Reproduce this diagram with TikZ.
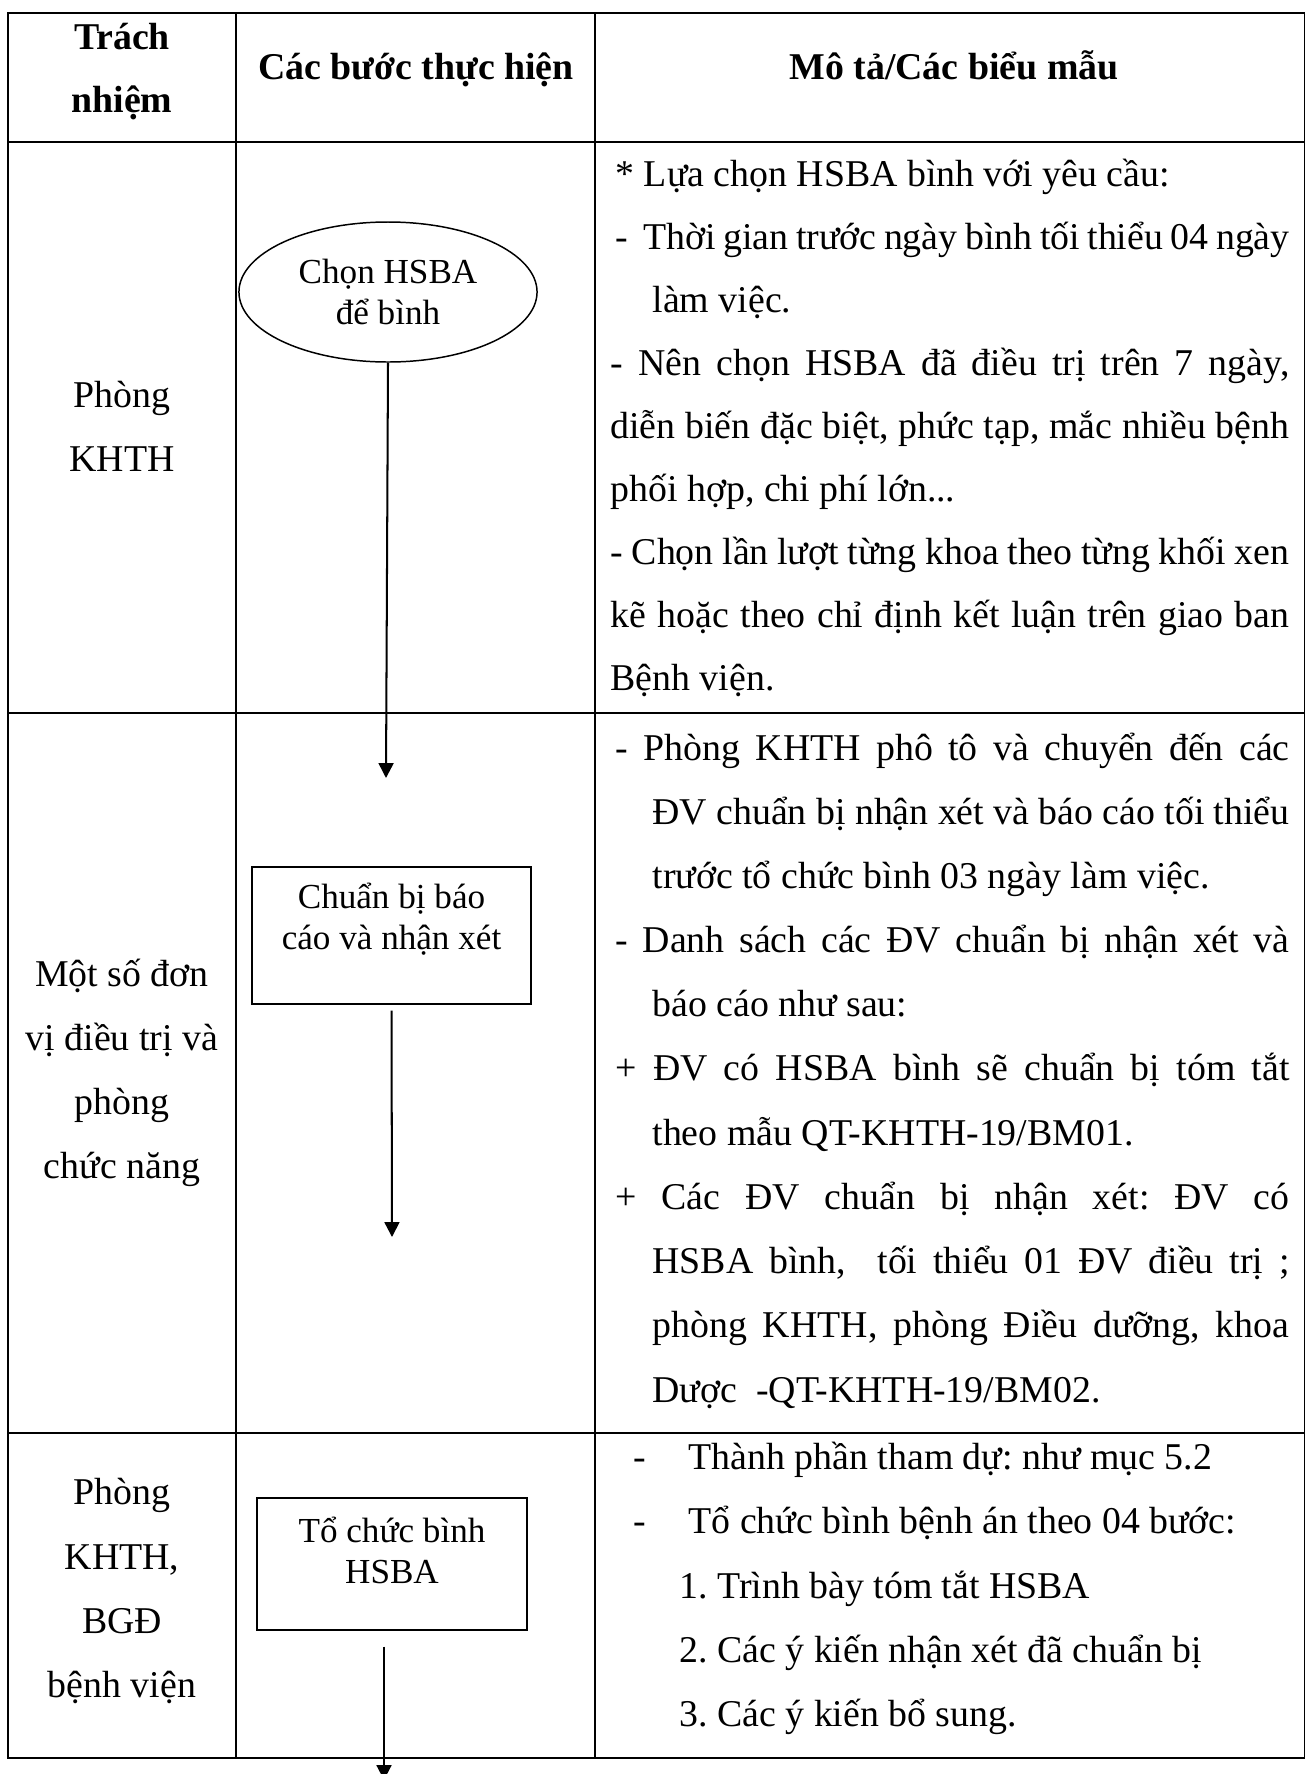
\documentclass[tikz,border=0pt]{standalone}
\usepackage{fontspec}
\setmainfont{Liberation Serif}
\usetikzlibrary{positioning,shapes.geometric,arrows.meta}
\newcommand{\spreadline}[2]{\makebox[#1][s]{#2}}
\frenchspacing

\begin{document}
\begin{tikzpicture}[x=0.37pt,y=-0.37pt,
  grid/.style={line width=0.8pt},
  head/.style={font=\fontsize{14}{23.3}\selectfont\bfseries,align=center},
  resp/.style={font=\fontsize{14}{23.7}\selectfont,align=center},
  desc/.style={font=\fontsize{14}{16}\selectfont,anchor=base west,inner sep=0pt},
  stepbox/.style={draw,line width=0.55pt,font=\fontsize{13}{15}\selectfont,align=center,inner sep=0pt},
  flow/.style={line width=0.75pt,-{Triangle[width=5.5pt,length=5.5pt]}}]
\useasboundingbox (0,0) rectangle (1305,1774);

% table
\draw[grid] (8,13) rectangle (1305,1758);
\foreach \yy in {142,713,1433}
  \draw[grid] (8,\yy) -- (1305,\yy);
\foreach \xx in {236,595}
  \draw[grid] (\xx,13) -- (\xx,1758);

% header
\node[head] (trach) at (122,72) {Trách\\nhiệm};
\node[head,anchor=base] (buoc) at (416,79) {Các bước thực hiện};
\node[head,anchor=base] (mota) at (954,79) {Mô tả/Các biểu mẫu};

% who
\node[resp] (khth) at (122,426) {Phòng\\KHTH};
\node[resp] (donvi) at (122,1073) {Một số đơn\\vị điều trị và\\phòng\\chức năng};
\node[resp] (bgd) at (122,1591) {Phòng\\KHTH,\\BGĐ\\bệnh viện};

% steps
\node[stepbox,ellipse,minimum width=110.3pt,minimum height=51.8pt] (choose) at (388,292) {Chọn HSBA\\để bình};
\node[stepbox,rectangle,minimum width=103.2pt,minimum height=50.7pt] (prepare) at (391.5,935.5) {Chuẩn bị báo\\cáo và nhận xét\\[-5.2pt]\strut};
\node[stepbox,rectangle,minimum width=99.9pt,minimum height=48.8pt] (hold) at (392,1564) {Tổ chức bình\\HSBA\\[-9.3pt]\strut};

\coordinate (end1) at (386,778);
\coordinate (end2) at (392,1237);
\coordinate (end3) at (384,1780);
\draw[flow] (choose.south) -- (end1);
\draw[flow,shorten <=2.2pt] (prepare.south) -- (end2);
\draw[flow,shorten <=5.9pt] (hold.south -| end3) -- (end3);

% row 1 text
\node[desc] (d1a) at (615,186) {* Lựa chọn HSBA bình với yêu cầu:};
\node[desc] (d1b) at (615,249) {\spreadline{249.4pt}{-\ \ Thời gian trước ngày bình tối thiểu 04 ngày}};
\node[desc] (d1c) at (652,312) {làm việc.};
\node[desc] (d1d) at (610,375) {\spreadline{251.2pt}{- Nên chọn HSBA đã điều trị trên 7 ngày,}};
\node[desc] (d1e) at (610,438) {\spreadline{251.2pt}{diễn biến đặc biệt, phức tạp, mắc nhiều bệnh}};
\node[desc] (d1f) at (610,501) {phối hợp, chi phí lớn...};
\node[desc] (d1g) at (610,564) {\spreadline{251.2pt}{- Chọn lần lượt từng khoa theo từng khối xen}};
\node[desc] (d1h) at (610,627) {\spreadline{251.2pt}{kẽ hoặc theo chỉ định kết luận trên giao ban}};
\node[desc] (d1i) at (610,690) {Bệnh viện.};

% row 2 text
\node[desc] (d2a) at (615,760) {\spreadline{249.4pt}{- Phòng KHTH phô tô và chuyển đến các}};
\node[desc] (d2b) at (652,824) {\spreadline{235.7pt}{ĐV chuẩn bị nhận xét và báo cáo tối thiểu}};
\node[desc] (d2c) at (652,888) {trước tổ chức bình 03 ngày làm việc.};
\node[desc] (d2d) at (615,952) {\spreadline{249.4pt}{- Danh sách các ĐV chuẩn bị nhận xét và}};
\node[desc] (d2e) at (652,1016) {báo cáo như sau:};
\node[desc] (d2f) at (615,1080) {\spreadline{249.4pt}{+ ĐV có HSBA bình sẽ chuẩn bị tóm tắt}};
\node[desc] (d2g) at (652,1145) {theo mẫu QT-KHTH-19/BM01.};
\node[desc] (d2h) at (615,1209) {\spreadline{249.4pt}{+ Các ĐV chuẩn bị nhận xét: ĐV có}};
\node[desc] (d2i) at (652,1273) {\spreadline{235.7pt}{HSBA bình,\ \ tối thiểu 01 ĐV điều trị ;}};
\node[desc] (d2j) at (652,1337) {\spreadline{235.7pt}{phòng KHTH, phòng Điều dưỡng, khoa}};
\node[desc] (d2k) at (652,1402) {Dược\ \ -QT-KHTH-19/BM02.};

% row 3 text
\node[desc] (d3a) at (633,1469) {\makebox[20.4pt][l]{-}Thành phần tham dự: như mục 5.2};
\node[desc] (d3b) at (633,1533) {\makebox[20.4pt][l]{-}Tổ chức bình bệnh án theo 04 bước:};
\node[desc] (d3c) at (679,1598) {1. Trình bày tóm tắt HSBA};
\node[desc] (d3d) at (679,1662) {2. Các ý kiến nhận xét đã chuẩn bị};
\node[desc] (d3e) at (679,1726) {3. Các ý kiến bổ sung.};
\end{tikzpicture}
\end{document}
